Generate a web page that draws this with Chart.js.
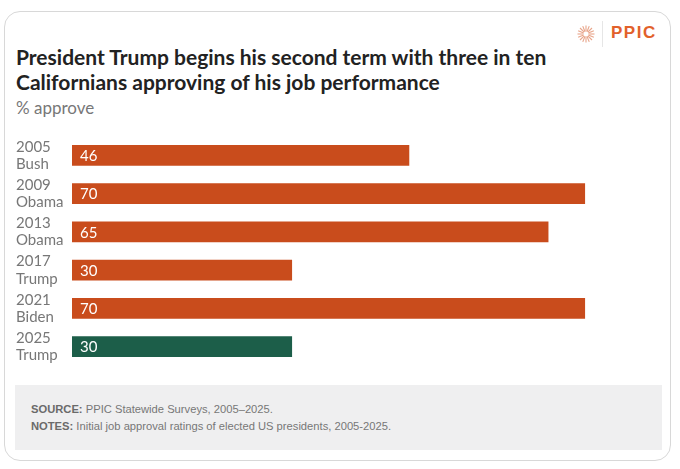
<!DOCTYPE html>
<html>
<head>
<meta charset="utf-8">
<script src="https://cdn.jsdelivr.net/npm/chart.js@4"></script>
<style>
  html, body { margin: 0; padding: 0; background: #fff; }
  body { width: 680px; height: 469px; position: relative; overflow: hidden; font-family: Lato, "Open Sans", sans-serif; }
  .card { position: absolute; left: 4px; top: 11px; width: 667px; height: 450px; border: 1px solid #d8d8d8; border-radius: 16px; box-sizing: border-box; }
  .title { position: absolute; left: 16px; top: 44px; font-size: 21px; font-weight: 700; color: #222; line-height: 25px; }
  .sub { position: absolute; left: 16px; top: 97px; font-size: 17px; color: #777; }
  .logo { position: absolute; left: 575px; top: 21px; width: 90px; height: 26px; }
  .logo .sep { position: absolute; left: 27px; top: 0; width: 1px; height: 26px; background: #e6e6e6; }
  .logo .txt { position: absolute; left: 36px; top: 2px; font-family: "Liberation Sans", Arial, sans-serif; font-size: 17px; font-weight: 700; color: #e2612b; letter-spacing: 1.5px; }
  .chartbox { position: absolute; left: 0; top: 119px; width: 680px; height: 264px; }
  .foot { position: absolute; left: 15px; top: 385px; width: 647px; height: 65px; background: #efeff0; font-family: "Liberation Sans", Arial, sans-serif; font-size: 11.2px; color: #777; }
  .foot div { position: absolute; left: 16px; }
  .foot b { color: #6a6a6a; }
</style>
</head>
<body>
<div class="card"></div>
<div class="logo">
  <svg width="22" height="22" viewBox="-11 -11 22 22" style="position:absolute;left:0;top:2px">
    <g stroke="#e8a58a" stroke-width="1.1" id="burst"></g>
  </svg>
  <div class="sep"></div>
  <div class="txt">PPIC</div>
</div>
<div class="title">President Trump begins his second term with three in ten<br>Californians approving of his job performance</div>
<div class="sub">% approve</div>
<div class="chartbox"><canvas id="approvalChart"></canvas></div>
<div class="foot">
  <div style="top:18px"><b>SOURCE:</b> PPIC Statewide Surveys, 2005–2025.</div>
  <div style="top:35px"><b>NOTES:</b> Initial job approval ratings of elected US presidents, 2005-2025.</div>
</div>
<script>
// Data
var years = ['2005', '2009', '2013', '2017', '2021', '2025'];
var presidents = ['Bush', 'Obama', 'Obama', 'Trump', 'Biden', 'Trump'];
var approve = [46, 70, 65, 30, 70, 30];
var barColors = ['#c94c1c', '#c94c1c', '#c94c1c', '#c94c1c', '#c94c1c', '#1c5e49'];

// little sunburst for the logo
var g = document.getElementById('burst');
for (var i = 0; i < 16; i++) {
  var a = i * Math.PI / 8;
  var line = document.createElementNS('http://www.w3.org/2000/svg', 'line');
  line.setAttribute('x1', (2.5 * Math.cos(a)).toFixed(2));
  line.setAttribute('y1', (2.5 * Math.sin(a)).toFixed(2));
  line.setAttribute('x2', (8.5 * Math.cos(a)).toFixed(2));
  line.setAttribute('y2', (8.5 * Math.sin(a)).toFixed(2));
  g.appendChild(line);
}

var labels = years.map(function (y, i) { return [y, presidents[i]]; });

// value text inside each bar
var valueLabels = {
  id: 'valueLabels',
  afterDatasetsDraw: function (chart) {
    var c = chart.ctx;
    var meta = chart.getDatasetMeta(0);
    c.save();
    c.fillStyle = '#fff';
    c.font = '15px Lato, sans-serif';
    c.textBaseline = 'middle';
    meta.data.forEach(function (bar, i) {
      c.fillText(approve[i], bar.base + 8, bar.y + 1);
    });
    c.restore();
  }
};

new Chart(document.getElementById('approvalChart'), {
  type: 'bar',
  data: {
    labels: labels,
    datasets: [{
      data: approve,
      backgroundColor: barColors,
      borderWidth: 0,
      barThickness: 20
    }]
  },
  options: {
    indexAxis: 'y',
    responsive: true,
    maintainAspectRatio: false,
    animation: false,
    layout: { padding: { left: 16, right: 22, top: 0, bottom: 0 } },
    plugins: { legend: { display: false }, tooltip: { enabled: false } },
    scales: {
      x: { min: 0, max: 80, display: false },
      y: {
        grid: { display: false },
        border: { display: false },
        afterFit: function (scale) { scale.width = 56; },
        ticks: {
          crossAlign: 'far',
          padding: 0,
          color: '#777',
          font: { family: 'Lato, sans-serif', size: 15, lineHeight: 1.15 }
        }
      }
    }
  },
  plugins: [valueLabels]
});
</script>
</body>
</html>
